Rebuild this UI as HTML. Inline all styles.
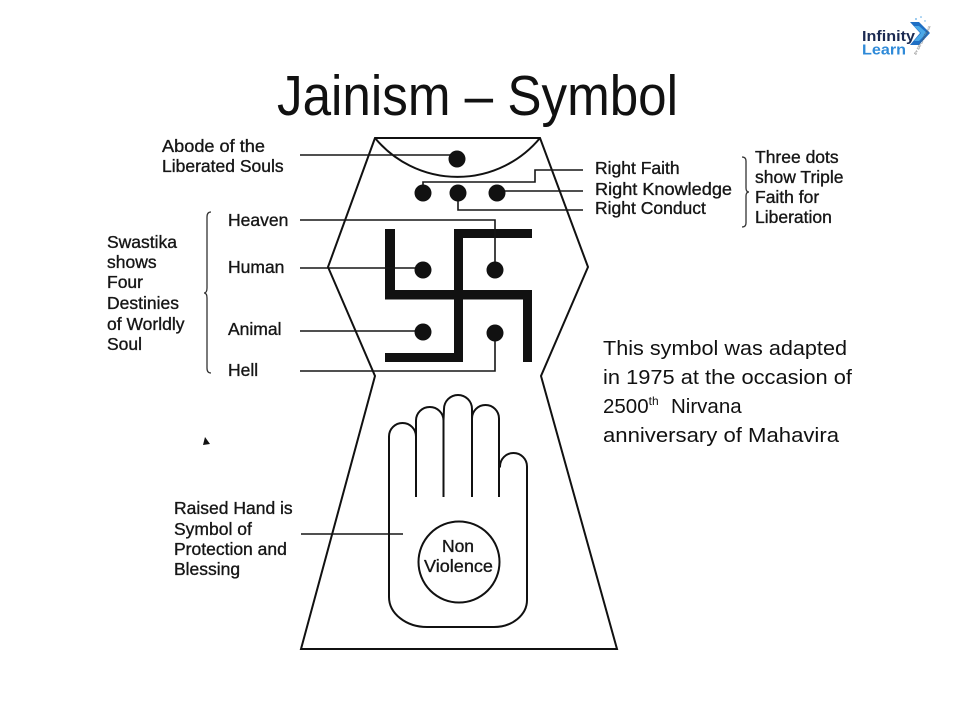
<!DOCTYPE html>
<html>
<head>
<meta charset="utf-8">
<style>
  html,body{margin:0;padding:0;background:#fff;}
  body{width:960px;height:720px;overflow:hidden;}
  svg{display:block;}
  .lbl{font-family:"Liberation Sans",Arial,sans-serif;font-size:17.5px;fill:#161616;stroke:#161616;stroke-width:0.35px;}
  .cal{font-family:"Liberation Sans",Arial,sans-serif;fill:#111;}
</style>
</head>
<body>
<svg width="960" height="720" viewBox="0 0 960 720" xmlns="http://www.w3.org/2000/svg">
  <rect width="960" height="720" fill="#fff"/>

  <!-- Title -->
  <text class="cal" x="277" y="115" font-size="57" textLength="401" lengthAdjust="spacingAndGlyphs">Jainism – Symbol</text>

  <!-- Logo -->
  <g>
    <text x="862" y="41" font-family="Liberation Sans, Arial, sans-serif" font-weight="bold" font-size="15" fill="#1b2a52" textLength="53" lengthAdjust="spacingAndGlyphs">Infinity</text>
    <text x="862" y="54.5" font-family="Liberation Sans, Arial, sans-serif" font-weight="bold" font-size="15" fill="#2f8ad8" textLength="44" lengthAdjust="spacingAndGlyphs">Learn</text>
    <polygon points="910,22 919,22 930,33 919,45 910,45 920,33" fill="#1f6fc4"/>
    <polygon points="914,26 919,26 927,33 919,41 914,41 921,33" fill="#4aa8e8"/>
    <circle cx="916" cy="19" r="0.9" fill="#5aa9e6"/>
    <circle cx="921" cy="17" r="0.8" fill="#5aa9e6"/>
    <circle cx="925" cy="21" r="0.7" fill="#5aa9e6"/>
    <text x="0" y="0" font-family="Liberation Sans, Arial, sans-serif" font-size="3.5" fill="#555" transform="translate(916,55) rotate(-62)">BY SRI CHAITANYA</text>
  </g>

  <!-- Outline shape -->
  <g fill="none" stroke="#111" stroke-width="2" stroke-linejoin="miter">
    <polygon points="375,138 328,267 375,376 301,649 617,649 541,376 588,267 540,138"/>
    <path d="M375 138 A107 107 0 0 0 540 138"/>
  </g>

  <!-- Swastika -->
  <g fill="#111">
    <rect x="385" y="229" width="10" height="70"/>
    <rect x="385" y="290" width="147" height="9.5"/>
    <rect x="523" y="290" width="9" height="72"/>
    <rect x="454" y="229" width="9" height="133"/>
    <rect x="454" y="229" width="78" height="9"/>
    <rect x="385" y="353" width="78" height="9"/>
  </g>

  <!-- Connector lines -->
  <g fill="none" stroke="#161616" stroke-width="1.6">
    <path d="M300 155 H457"/>
    <path d="M423 185 V182 H535 V170 H583"/>
    <path d="M497 191 H583"/>
    <path d="M458 193 V210 H583"/>
    <path d="M300 220 H495 V270"/>
    <path d="M300 268 H423"/>
    <path d="M300 331 H423"/>
    <path d="M300 371 H495 V333"/>
    <path d="M301 534 H403"/>
  </g>

  <!-- Dots -->
  <g fill="#111">
    <circle cx="457" cy="159" r="8.5"/>
    <circle cx="423" cy="193" r="8.5"/>
    <circle cx="458" cy="193" r="8.5"/>
    <circle cx="497" cy="193" r="8.5"/>
    <circle cx="423" cy="270" r="8.5"/>
    <circle cx="495" cy="270" r="8.5"/>
    <circle cx="423" cy="332" r="8.5"/>
    <circle cx="495" cy="333" r="8.5"/>
  </g>

  <!-- Hand -->
  <g fill="none" stroke="#111" stroke-width="2">
    <path d="M389 597 V436.5 A13.5 13.5 0 0 1 416 436.5 L416 420.5 A13.75 13.5 0 0 1 443.5 420.5 L444 409 A14 14 0 0 1 472 409 L472 418.5 A13.5 13.5 0 0 1 499 418.5 L499 466.5 L500 466.5 A13.5 13.5 0 0 1 527 466.5 V600 A33 27 0 0 1 494 627 H427 A38 30 0 0 1 389 597 Z"/>
    <path d="M416 436.5 V497"/>
    <path d="M443.5 420.5 V497"/>
    <path d="M472 418.5 V497"/>
    <path d="M499 466.5 V497"/>
    <circle cx="459" cy="562" r="40.5"/>
  </g>
  <text class="lbl" x="458" y="552" text-anchor="middle">Non</text>
  <text class="lbl" x="458.5" y="572" text-anchor="middle" textLength="69" lengthAdjust="spacingAndGlyphs">Violence</text>

  <!-- Braces -->
  <g fill="none" stroke="#333" stroke-width="1.3">
    <path d="M211 212 Q207 212 207 217 V288 Q207 293 204 293 Q207 293 207 298 V368 Q207 373 211 373"/>
    <path d="M742 157 Q746 157 746 161 V188 Q746 192 749 192 Q746 192 746 196 V223 Q746 227 742 227"/>
  </g>

  <!-- small arrow mark -->
  <polygon points="205,437 210,444 203,445" fill="#111"/>

  <!-- Left labels -->
  <text class="lbl" x="162" y="152" textLength="103" lengthAdjust="spacingAndGlyphs">Abode of the</text>
  <text class="lbl" x="162" y="172">Liberated Souls</text>

  <text class="lbl" x="228" y="226">Heaven</text>
  <text class="lbl" x="228" y="273">Human</text>
  <text class="lbl" x="228" y="335">Animal</text>
  <text class="lbl" x="228" y="376">Hell</text>

  <text class="lbl" x="107" y="248">Swastika</text>
  <text class="lbl" x="107" y="268">shows</text>
  <text class="lbl" x="107" y="288">Four</text>
  <text class="lbl" x="107" y="309">Destinies</text>
  <text class="lbl" x="107" y="330">of Worldly</text>
  <text class="lbl" x="107" y="350">Soul</text>

  <text class="lbl" x="174" y="514">Raised Hand is</text>
  <text class="lbl" x="174" y="535">Symbol of</text>
  <text class="lbl" x="174" y="555">Protection and</text>
  <text class="lbl" x="174" y="575">Blessing</text>

  <!-- Right labels -->
  <text class="lbl" x="595" y="174">Right Faith</text>
  <text class="lbl" x="595" y="195" textLength="137" lengthAdjust="spacingAndGlyphs">Right Knowledge</text>
  <text class="lbl" x="595" y="214">Right Conduct</text>

  <text class="lbl" x="755" y="163">Three dots</text>
  <text class="lbl" x="755" y="183">show Triple</text>
  <text class="lbl" x="755" y="203">Faith for</text>
  <text class="lbl" x="755" y="223">Liberation</text>

  <!-- Note text -->
  <g class="cal" font-size="20.5">
    <text x="603" y="355" textLength="244" lengthAdjust="spacingAndGlyphs">This symbol was adapted</text>
    <text x="603" y="384" textLength="249" lengthAdjust="spacingAndGlyphs">in 1975 at the occasion of</text>
    <text x="603" y="413">2500<tspan font-size="12" dy="-8">th</tspan><tspan dy="8" x="671">Nirvana</tspan></text>
    <text x="603" y="442" textLength="236" lengthAdjust="spacingAndGlyphs">anniversary of Mahavira</text>
  </g>
</svg>
</body>
</html>
